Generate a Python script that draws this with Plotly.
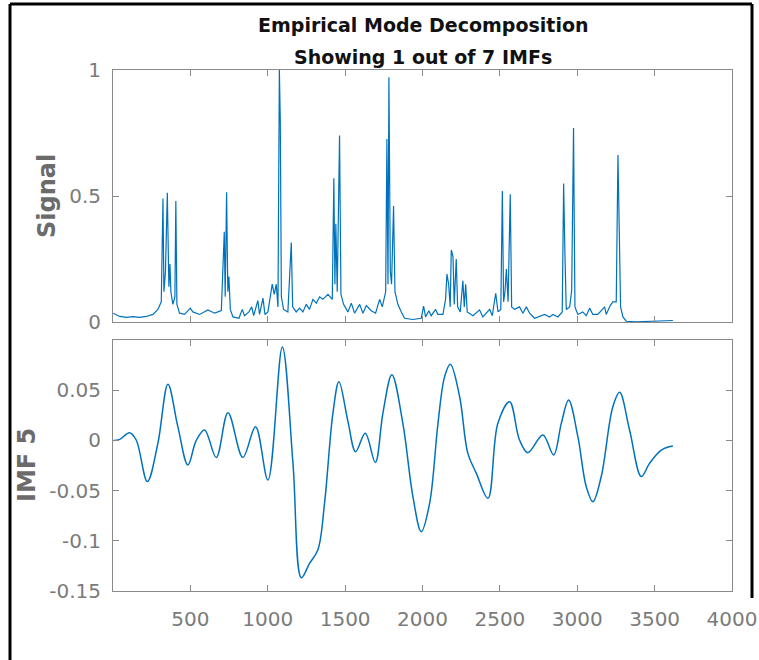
import plotly.graph_objects as go

# ---------------- data ----------------
signal_x = [1, 43, 86, 129, 172, 215, 258, 290, 312, 323, 329, 339, 351, 357, 361, 368, 374, 387, 400, 406,
            413, 430, 463, 499, 516, 560, 613, 657, 700, 719, 725, 734, 742, 749, 758, 775, 814, 835, 850, 878,
            896, 909, 936, 947, 969, 982, 1001, 1029, 1042, 1055, 1066, 1075, 1081, 1088, 1102, 1130, 1152, 1161,
            1184, 1206, 1227, 1249, 1270, 1292, 1314, 1335, 1356, 1389, 1417, 1427, 1434, 1440, 1449, 1464, 1473,
            1490, 1518, 1540, 1561, 1594, 1615, 1637, 1669, 1697, 1723, 1740, 1762, 1770, 1777, 1783, 1792, 1800,
            1813, 1822, 1841, 1863, 1884, 1938, 1992, 2007, 2020, 2041, 2056, 2085, 2099, 2132, 2149, 2158, 2169,
            2179, 2186, 2197, 2205, 2218, 2227, 2244, 2261, 2270, 2279, 2289, 2326, 2369, 2390, 2434, 2451, 2473,
            2488, 2506, 2516, 2524, 2533, 2542, 2553, 2567, 2576, 2595, 2627, 2649, 2671, 2692, 2724, 2789, 2821,
            2843, 2875, 2903, 2912, 2920, 2929, 2951, 2964, 2976, 2985, 3004, 3036, 3058, 3080, 3101, 3133, 3155,
            3177, 3187, 3213, 3230, 3252, 3263, 3272, 3280, 3295, 3317, 3382, 3489, 3575, 3618]
signal_y = [0.035, 0.022, 0.018, 0.021, 0.018, 0.022, 0.030, 0.050, 0.080, 0.490, 0.120, 0.200, 0.513, 0.360,
            0.140, 0.230, 0.120, 0.070, 0.100, 0.480, 0.070, 0.035, 0.030, 0.055, 0.040, 0.030, 0.048, 0.035,
            0.045, 0.358, 0.100, 0.515, 0.120, 0.180, 0.050, 0.020, 0.015, 0.050, 0.025, 0.040, 0.060, 0.025,
            0.085, 0.030, 0.095, 0.030, 0.040, 0.150, 0.110, 0.150, 0.060, 1.000, 0.800, 0.100, 0.050, 0.040,
            0.315, 0.060, 0.040, 0.055, 0.040, 0.070, 0.050, 0.090, 0.075, 0.100, 0.090, 0.110, 0.090, 0.570,
            0.150, 0.390, 0.120, 0.740, 0.110, 0.070, 0.040, 0.075, 0.035, 0.070, 0.035, 0.065, 0.045, 0.035,
            0.090, 0.060, 0.120, 0.726, 0.150, 0.971, 0.200, 0.150, 0.460, 0.120, 0.070, 0.040, 0.015, 0.010,
            0.015, 0.063, 0.020, 0.045, 0.025, 0.050, 0.030, 0.030, 0.090, 0.190, 0.150, 0.060, 0.286, 0.260,
            0.070, 0.250, 0.060, 0.040, 0.164, 0.060, 0.150, 0.040, 0.025, 0.048, 0.020, 0.050, 0.025, 0.114,
            0.040, 0.050, 0.520, 0.080, 0.120, 0.210, 0.080, 0.507, 0.060, 0.050, 0.060, 0.035, 0.060, 0.035,
            0.015, 0.030, 0.020, 0.030, 0.020, 0.040, 0.550, 0.280, 0.050, 0.060, 0.125, 0.770, 0.060, 0.030,
            0.040, 0.025, 0.055, 0.030, 0.030, 0.045, 0.060, 0.030, 0.065, 0.080, 0.080, 0.663, 0.260, 0.060,
            0.020, 0.003, 0.001, 0.002, 0.003, 0.006]

imf_x = [4, 43, 107, 150, 222, 290, 355, 419, 484, 538, 592, 667, 743, 839, 921, 1001, 1094, 1163, 1217, 1270,
         1324, 1367, 1421, 1460, 1518, 1568, 1630, 1695, 1744, 1802, 1873, 1938, 1992, 2046, 2100, 2143, 2180,
         2240, 2293, 2348, 2423, 2487, 2563, 2627, 2681, 2778, 2847, 2897, 2944, 3004, 3058, 3101, 3155, 3230,
         3274, 3338, 3414, 3467, 3543, 3618]
imf_y = [0.000, 0.001, 0.0077, 0.0004, -0.041, -0.003, 0.056, 0.0137, -0.0245, 0.000, 0.0104, -0.017, 0.0276,
         -0.0169, 0.0137, -0.0394, 0.093, -0.0229, -0.1368, -0.1225, -0.109, -0.0627, 0.027, 0.0585, 0.019,
         -0.0112, 0.007, -0.0219, 0.027, 0.0655, 0.017, -0.056, -0.0909, -0.0627, 0.017, 0.0635, 0.0758,
         0.0435, -0.0129, -0.0328, -0.0577, 0.017, 0.0386, 0.0004, -0.0122, 0.0054, -0.0145, 0.017, 0.0402,
         0.0037, -0.046, -0.061, -0.036, 0.0336, 0.0479, 0.0104, -0.036, -0.0229, -0.0096, -0.0056]

x_ticks = [500, 1000, 1500, 2000, 2500, 3000, 3500, 4000]
sig_ticks = [0, 0.5, 1]
sig_ticktext = ["0", "0.5", "1"]
imf_ticks = [-0.15, -0.1, -0.05, 0, 0.05]
imf_ticktext = ["-0.15", "-0.1", "-0.05", "0", "0.05"]

title_1 = "Empirical Mode Decomposition"
title_2 = "Showing 1 out of 7 IMFs"
label_top = "Signal"
label_bottom = "IMF 5"

# ---------------- styling ----------------
LINE = "#0072BD"
AXC = "#8a8a8a"
TICKC = "#7b7b7b"
LABC = "#6b6b6b"
FONT = "DejaVu Sans"

W, H = 759, 660
L, R, T, B = 113, 27, 70, 69
PW, PH = W - L - R, H - T - B


def px(xp):
    return (xp - L) / PW


def py(yp):
    return (H - B - yp) / PH


fig = go.Figure()
fig.add_trace(go.Scatter(x=signal_x, y=signal_y, mode="lines", line=dict(color=LINE, width=1.2),
                         xaxis="x", yaxis="y", showlegend=False, hoverinfo="skip"))
fig.add_trace(go.Scatter(x=imf_x, y=imf_y, mode="lines", line=dict(color=LINE, width=1.5, shape="spline", smoothing=1.0),
                         xaxis="x2", yaxis="y2", showlegend=False, hoverinfo="skip"))

common_axis = dict(showgrid=False, zeroline=False, showline=True, linecolor=AXC, linewidth=1,
                   mirror="ticks", ticks="inside", ticklen=6, tickcolor=AXC, tickwidth=1, automargin=False,
                   tickfont=dict(family=FONT, size=20, color=TICKC))

top_dom = [py(322), 1.0]
bot_dom = [0.0, py(340)]

fig.update_layout(
    template="none",
    width=W, height=H, autosize=False,
    margin=dict(l=L, r=R, t=T, b=B, pad=0),
    paper_bgcolor="white", plot_bgcolor="white",
    xaxis=dict(domain=[0, 1], anchor="y", range=[0, 4000], tickvals=x_ticks, showticklabels=False, **common_axis),
    yaxis=dict(domain=top_dom, anchor="x", range=[0, 1], tickvals=sig_ticks, ticktext=sig_ticktext,
               ticklabelstandoff=7, **common_axis),
    xaxis2=dict(domain=[0, 1], anchor="y2", range=[0, 4000], tickvals=x_ticks, ticklabelstandoff=10, **common_axis),
    yaxis2=dict(domain=bot_dom, anchor="x2", range=[-0.15, 0.1], tickvals=imf_ticks, ticktext=imf_ticktext,
                ticklabelstandoff=7, **common_axis),
)

annos = [
    dict(text=title_1, x=0.5, y=py(25), font=dict(family=FONT, size=19, color="#111111", weight="bold")),
    dict(text=title_2, x=0.5, y=py(57), font=dict(family=FONT, size=19, color="#111111", weight="bold")),
    dict(text=label_top, x=px(47), y=py(196), textangle=-90, font=dict(family=FONT, size=24, color=LABC, weight="bold")),
    dict(text=label_bottom, x=px(27), y=py(465), textangle=-90, font=dict(family=FONT, size=24, color=LABC, weight="bold")),
]
for a in annos:
    fig.add_annotation(xref="paper", yref="paper", xanchor="center", yanchor="middle", showarrow=False, **a)

# black outer frame of the screenshot
frame = dict(type="line", xref="paper", yref="paper", line=dict(color="black", width=3))
fig.add_shape(x0=px(10), x1=px(10), y0=py(4), y1=py(662), **frame)
fig.add_shape(x0=px(10), x1=px(752), y0=py(4), y1=py(4), **frame)
fig.add_shape(x0=px(752), x1=px(752), y0=py(4), y1=py(598), **frame)

fig.write_html(
    "out.html",
    config={"displayModeBar": False},
    post_script="document.body.style.margin='0px';document.body.style.overflow='hidden';",
)
